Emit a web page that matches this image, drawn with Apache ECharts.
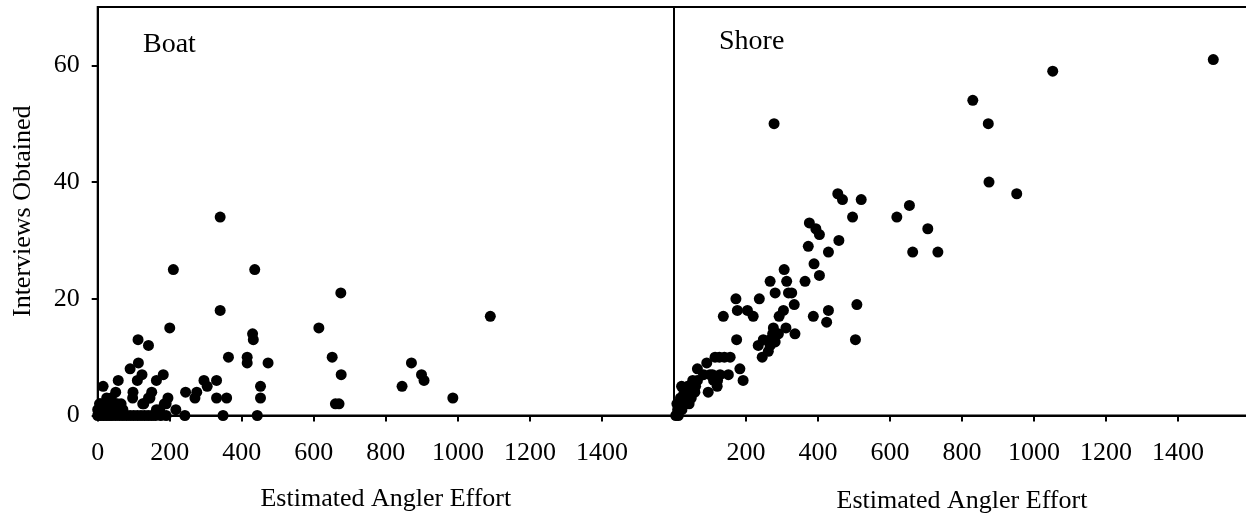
<!DOCTYPE html>
<html>
<head>
<meta charset="utf-8">
<script src="https://cdn.jsdelivr.net/npm/echarts@6/dist/echarts.min.js"></script>
<style>
html,body{margin:0;padding:0;background:#fff;}
#chart{width:1246px;height:514px;}
</style>
</head>
<body>
<div id="chart"></div>
<script>
// ---- Data ----
const panelNames = ['Boat', 'Shore'];
const xAxisTitle = 'Estimated Angler Effort';
const yAxisTitle = 'Interviews Obtained';
const yTicks = [0, 20, 40, 60];
const xTicksBoat = [0, 200, 400, 600, 800, 1000, 1200, 1400];
const xTicksShore = [200, 400, 600, 800, 1000, 1200, 1400];

const boatEffort = [340,210,436,675,340,200,614,112,141,430,432,363,415,415,473,651,676,660,670,845,871,899,906,986,1090,452,452,443,348,358,330,330,295,304,270,275,244,242,217,195,190,182,163,150,145,125,163,172,90,113,123,110,98,97,57,50,38,55,15,8,15,185,141,128,
  0,8,16,24,32,40,50,60,70,80,90,100,110,120,130,140,150,160,175,190,
  0,5,22,28,35,45,70,25,65,30];
const boatInterviews = [34,25,25,21,18,15,15,13,12,14,13,10,10,9,9,10,7,2,2,5,9,7,6,3,17,5,3,0,0,3,3,6,6,5,3,4,4,0,1,3,2,7,6,4,3,2,1,1,8,9,7,6,4,3,6,4,3,2,5,2,1,2,3,2,
  0,0,0,0,0,0,0,0,0,0,0,0,0,0,0,0,0,0,0,0,
  1,2,1,2,1,1,1,3,2,2];

const shoreEffort = [278,1498,1052,830,873,875,952,
  455,468,520,496,619,654,705,663,733,
  376,394,404,458,373,429,389,306,404,364,313,267,281,318,327,334,304,292,429,387,424,508,504,311,336,
  276,281,267,248,234,267,281,262,245,274,290,
  172,237,176,204,220,137,174,
  156,126,114,140,91,65,183,192,52,21,95,120,151,82,100,110,128,121,107,
  5,10,15,20,25,30,35,40,45,50,55,60,12,22,32,42,8,18,28,38,48,58,65];
const shoreInterviews = [50,61,59,54,50,40,38,
  38,37,37,34,34,36,32,28,28,
  33,32,31,30,29,28,26,25,24,23,23,23,21,21,21,19,18,17,18,17,16,19,13,15,14,
  15,14,13,13,12,12,12.6,11,10,14,14,
  20,20,18,18,17,17,13,
  10,10,10,10,9,8,8,6,6,5,4,5,7,7,7,6,7,6,7,
  0,1,1,2,2,3,3,3,4,4,5,5,0,1,2,2,2,3,4,5,3,4,6];

const toPairs = (xs, ys) => xs.map((x, i) => [x, ys[i]]);

// ---- Chart ----
const FONT = '"Liberation Serif", "Times New Roman", serif';
const chart = echarts.init(document.getElementById('chart'), null, {renderer: 'canvas'});

const gridTop = 7, gridHeight = 408.5;
const plain = v => String(v);
const commonX = (ticks) => ({
  type: 'value', min: 0, max: 1600, interval: 200,
  axisLine: {show: true, onZero: false, lineStyle: {color: '#000', width: 2}},
  axisTick: {show: true, inside: false, length: 6, customValues: ticks, lineStyle: {color: '#000', width: 2}},
  axisLabel: {show: true, customValues: ticks, formatter: plain, margin: 25, color: '#000', fontFamily: FONT, fontSize: 26},
  splitLine: {show: false},
  name: xAxisTitle, nameLocation: 'middle', nameGap: 71,
  nameTextStyle: {color: '#000', fontFamily: FONT, fontSize: 26}
});

const option = {
  backgroundColor: '#fff',
  animation: false,
  grid: [
    {left: 97.7, top: gridTop, width: 576.3, height: gridHeight, show: true, borderColor: '#000', borderWidth: 2, backgroundColor: 'transparent', containLabel: false, outerBoundsMode: 'none'},
    {left: 674, top: gridTop, width: 576, height: gridHeight, show: true, borderColor: '#000', borderWidth: 2, backgroundColor: 'transparent', containLabel: false, outerBoundsMode: 'none'}
  ],
  xAxis: [
    Object.assign(commonX(xTicksBoat), {gridIndex: 0}),
    Object.assign(commonX(xTicksShore), {gridIndex: 1, nameGap: 73})
  ],
  yAxis: [
    {
      gridIndex: 0, type: 'value', min: 0, max: 70, interval: 10,
      axisLine: {show: true, onZero: false, lineStyle: {color: '#000', width: 2}},
      axisTick: {show: true, length: 6, customValues: yTicks, lineStyle: {color: '#000', width: 2}},
      axisLabel: {show: true, customValues: yTicks, formatter: plain, margin: 18, color: '#000', fontFamily: FONT, fontSize: 26},
      splitLine: {show: false},
      name: yAxisTitle, nameLocation: 'middle', nameGap: 62, nameRotate: 90,
      nameTextStyle: {color: '#000', fontFamily: FONT, fontSize: 26}
    },
    {
      gridIndex: 1, type: 'value', min: 0, max: 70, interval: 10,
      axisLine: {show: true, onZero: false, lineStyle: {color: '#000', width: 2}},
      axisTick: {show: false},
      axisLabel: {show: false},
      splitLine: {show: false}
    }
  ],
  graphic: [
    {type: 'text', left: 143, top: 31, style: {text: panelNames[0], fill: '#000', font: '28px ' + FONT}},
    {type: 'text', left: 719, top: 28, style: {text: panelNames[1], fill: '#000', font: '28px ' + FONT}}
  ],
  series: [
    {type: 'scatter', xAxisIndex: 0, yAxisIndex: 0, data: toPairs(boatEffort, boatInterviews),
     symbol: 'circle', symbolSize: 11, itemStyle: {color: '#000', opacity: 1}, clip: false, silent: true},
    {type: 'scatter', xAxisIndex: 1, yAxisIndex: 1, data: toPairs(shoreEffort, shoreInterviews),
     symbol: 'circle', symbolSize: 11, itemStyle: {color: '#000', opacity: 1}, clip: false, silent: true}
  ]
};
chart.setOption(option);
</script>
</body>
</html>
